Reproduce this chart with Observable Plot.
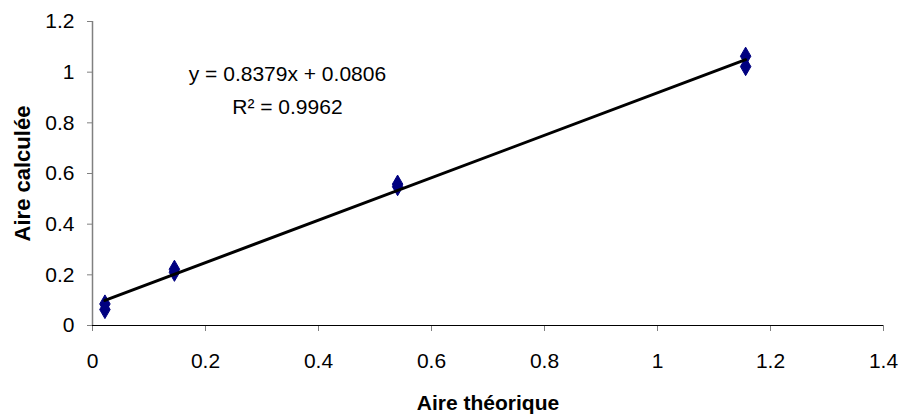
<!DOCTYPE html>
<html><head><meta charset="utf-8">
<script src="https://cdn.jsdelivr.net/npm/d3@7"></script>
<script src="https://cdn.jsdelivr.net/npm/@observablehq/plot@0.6"></script>
<style>body{margin:0;background:#fff;font-family:"Liberation Sans",Arial,sans-serif}</style>
</head><body><div id="chart"></div>
<script>
const xTheo = [0.022, 0.022, 0.145, 0.145, 0.54, 0.54, 1.156, 1.156];
const yCalc = [0.085, 0.063, 0.222, 0.21, 0.558, 0.548, 1.063, 1.022];
const slope = 0.8379, intercept = 0.0806, r2 = 0.9962;
const xTicks = [0, 0.2, 0.4, 0.6, 0.8, 1, 1.2, 1.4];
const yTicks = [0, 0.2, 0.4, 0.6, 0.8, 1, 1.2];
const eqLabels = [
  {x: 0.345, y: 0.99, text: `y = ${slope}x + ${intercept}`},
  {x: 0.345, y: 0.863, text: `R² = ${r2}`}
];

const pts = xTheo.map((x, i) => ({x, y: yCalc[i]}));
const xmin = d3.min(xTheo), xmax = d3.max(xTheo);
const trend = [{x: xmin, y: slope*xmin + intercept}, {x: xmax, y: slope*xmax + intercept}];

const plot = Plot.plot({
  width: 901, height: 419,
  marginLeft: 92, marginRight: 18, marginTop: 21, marginBottom: 94,
  style: {fontFamily: "Liberation Sans, Arial, sans-serif", fontSize: "20px", background: "#fff", color: "#000"},
  x: {domain: [0, 1.4]},
  y: {domain: [0, 1.2]},
  marks: [
    Plot.axisX({ticks: xTicks, tickSize: 6, tickPadding: 22, tickFormat: d => String(d), fontSize: 21, stroke: "#808080",
      label: "Aire théorique", labelAnchor: "center", labelArrow: "none", labelOffset: 84}),
    Plot.axisY({ticks: yTicks, tickSize: 5, tickPadding: 13, tickFormat: d => String(d), fontSize: 21, stroke: "#808080",
      label: "Aire calculée", labelAnchor: "center", labelArrow: "none", labelOffset: 78}),
    Plot.ruleX([0], {stroke: "#808080", strokeWidth: 1.5}),
    Plot.ruleY([0], {stroke: "#000", strokeWidth: 1}),
    Plot.dot(pts, {x: "x", y: "y", symbol: "diamond", r: 5.5, fill: "#000080", stroke: "#000080", strokeWidth: 1}),
    Plot.line(trend, {x: "x", y: "y", stroke: "#000", strokeWidth: 3}),
    Plot.text(eqLabels, {x: "x", y: "y", text: "text", fontSize: 21, textAnchor: "middle", fill: "#000"})
  ]
});
document.getElementById("chart").appendChild(plot);
plot.querySelectorAll("g[aria-label='x-axis label'] text").forEach(t => {
  t.setAttribute("font-weight", "bold"); t.setAttribute("font-size", "21");
});
plot.querySelectorAll("g[aria-label='y-axis label'] text").forEach(t => {
  t.setAttribute("font-weight", "bold"); t.setAttribute("font-size", "22");
});
</script></body></html>
